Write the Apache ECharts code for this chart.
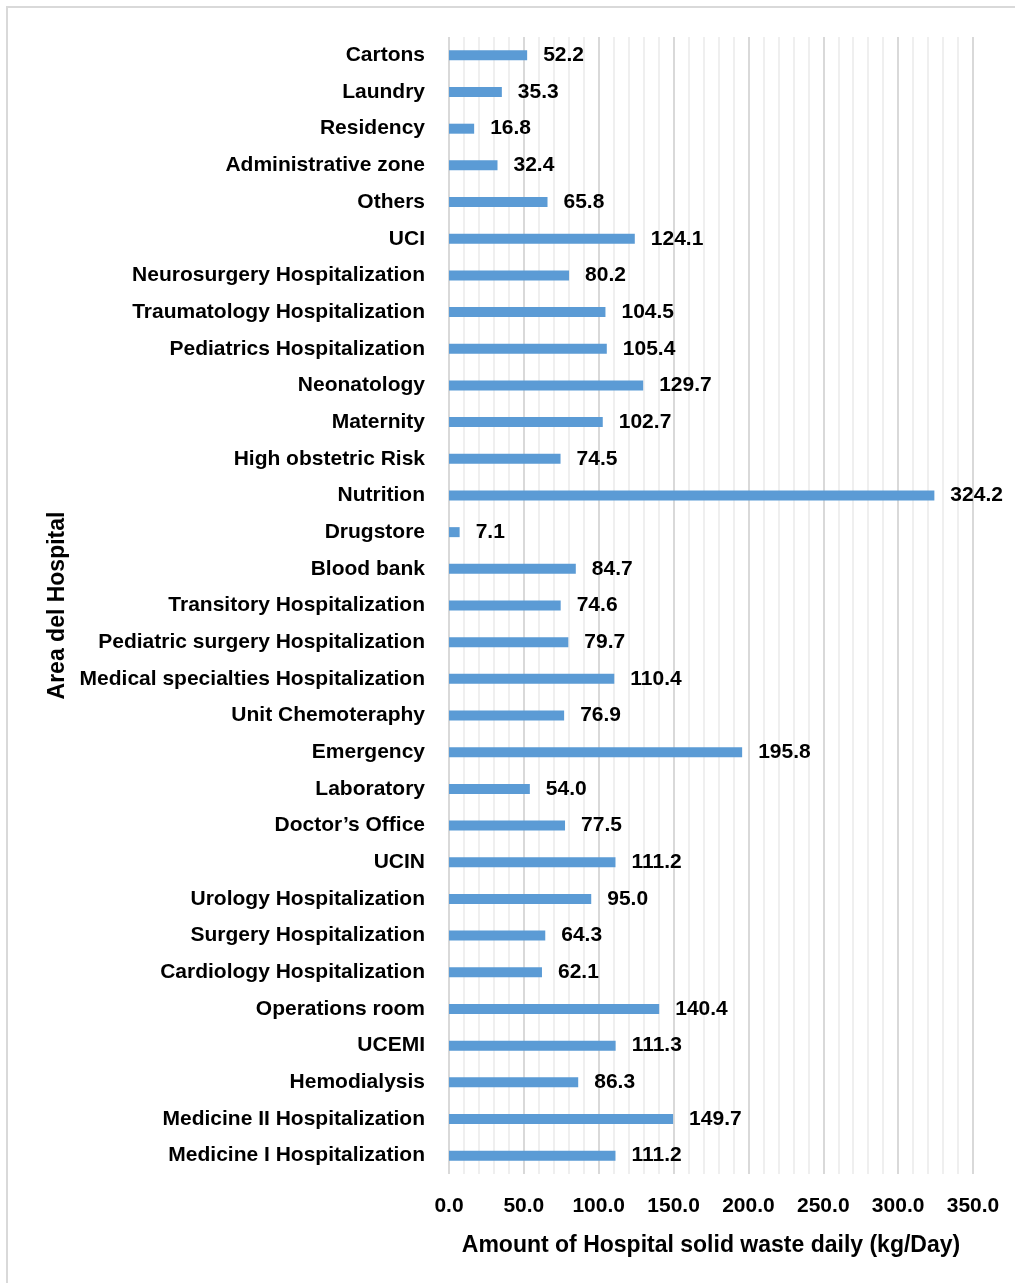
<!DOCTYPE html>
<html lang="en">
<head>
    <meta charset="UTF-8">
    <title>Hospital solid waste</title>
    <script src="https://cdn.jsdelivr.net/npm/echarts@6/dist/echarts.min.js"></script>
    <style>
        html, body { margin: 0; padding: 0; background: #fff; }
        #container { width: 1015px; height: 1283px; }
    </style>
</head>
<body>
<div id="container"></div>
<script type="text/javascript">
    // areas, top to bottom as in the picture
    var areas = ['Cartons', 'Laundry', 'Residency', 'Administrative zone', 'Others', 'UCI',
        'Neurosurgery Hospitalization', 'Traumatology Hospitalization', 'Pediatrics Hospitalization',
        'Neonatology', 'Maternity', 'High obstetric Risk', 'Nutrition', 'Drugstore', 'Blood bank',
        'Transitory Hospitalization', 'Pediatric surgery Hospitalization',
        'Medical specialties Hospitalization', 'Unit Chemoteraphy', 'Emergency', 'Laboratory',
        'Doctor\u2019s Office', 'UCIN', 'Urology Hospitalization', 'Surgery Hospitalization',
        'Cardiology Hospitalization', 'Operations room', 'UCEMI', 'Hemodialysis',
        'Medicine II Hospitalization', 'Medicine I Hospitalization'];
    var waste = [52.2, 35.3, 16.8, 32.4, 65.8, 124.1, 80.2, 104.5, 105.4, 129.7, 102.7, 74.5,
        324.2, 7.1, 84.7, 74.6, 79.7, 110.4, 76.9, 195.8, 54.0, 77.5, 111.2, 95.0, 64.3, 62.1,
        140.4, 111.3, 86.3, 149.7, 111.2];

    var font = 'Liberation Sans';

    var myChart = echarts.init(document.getElementById('container'), null, {renderer: 'canvas'});

    var option = {
        animation: false,
        graphic: [{
            type: 'rect',
            shape: {x: 7, y: 7, width: 1020, height: 1290},
            style: {fill: 'none', stroke: '#d9d9d9', lineWidth: 2},
            silent: true
        }],
        grid: {left: 449, right: 42, top: 37, bottom: 109, containLabel: false},
        xAxis: {
            type: 'value',
            min: 0,
            max: 350,
            interval: 50,
            name: 'Amount of Hospital solid waste daily (kg/Day)',
            nameLocation: 'middle',
            nameGap: 60,
            nameTextStyle: {color: '#000', fontFamily: font, fontWeight: 'bold', fontSize: 23},
            axisLine: {show: false},
            axisTick: {show: false},
            axisLabel: {
                color: '#000', fontFamily: font, fontWeight: 'bold', fontSize: 21, margin: 22,
                formatter: function (v) { return v.toFixed(1); }
            },
            splitLine: {show: true, lineStyle: {color: '#d9d9d9', width: 2}},
            minorTick: {show: false, splitNumber: 5},
            minorSplitLine: {show: true, lineStyle: {color: '#efefef', width: 2}}
        },
        yAxis: {
            type: 'category',
            inverse: true,
            data: areas,
            name: 'Area del Hospital',
            nameLocation: 'middle',
            nameGap: 374,
            nameRotate: 90,
            nameTextStyle: {color: '#000', fontFamily: font, fontWeight: 'bold', fontSize: 23},
            axisLine: {show: false},
            axisTick: {show: false},
            axisLabel: {color: '#000', fontFamily: font, fontWeight: 'bold', fontSize: 21, margin: 24}
        },
        series: [{
            type: 'bar',
            data: waste,
            barWidth: 10,
            itemStyle: {color: '#5b9bd5'},
            label: {
                show: true,
                position: 'right',
                distance: 16,
                color: '#000',
                fontFamily: font,
                fontWeight: 'bold',
                fontSize: 21,
                formatter: function (p) { return p.value.toFixed(1); }
            }
        }]
    };

    myChart.setOption(option);
    window.addEventListener('resize', myChart.resize);
</script>
</body>
</html>
